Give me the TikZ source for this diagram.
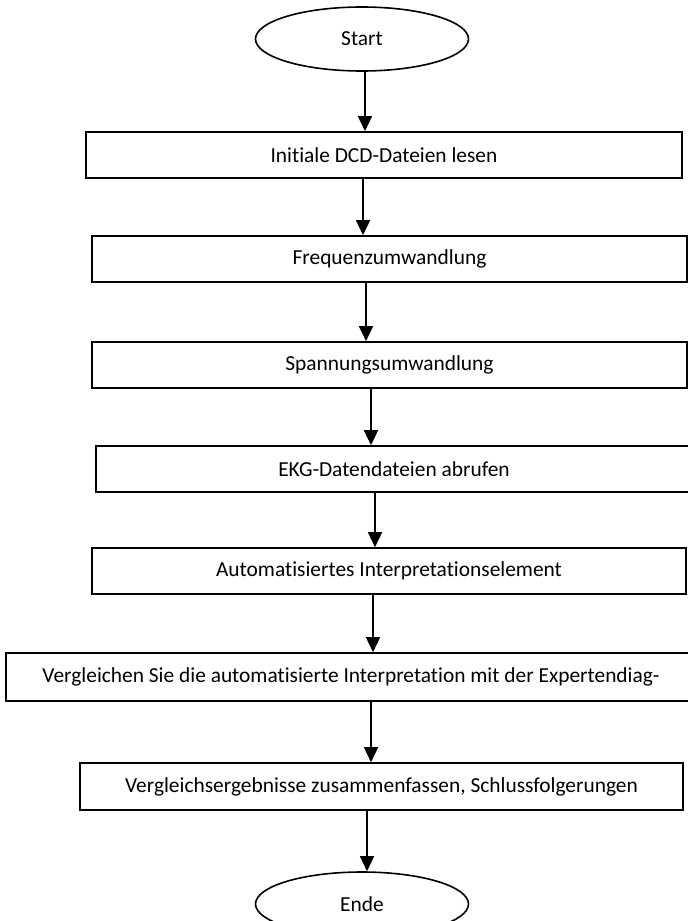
\documentclass[tikz,border=0pt]{standalone}
\usepackage{fontspec}
\setmainfont{Carlito}[Ligatures=NoCommon]
\usetikzlibrary{arrows.meta,shapes.geometric}
\tikzset{
  txt/.style={font=\fontsize{21.4}{24}\selectfont},
  stepbox/.style={draw=black,line width=1.6pt,rectangle,inner sep=0pt,minimum height=46pt,txt},
  term/.style={draw=black,line width=1.6pt,ellipse,inner sep=0pt,minimum width=213pt,minimum height=64pt,txt},
  arr/.style={line width=1.5pt,-{Triangle[length=15pt,width=14pt]}}
}
\begin{document}
\begin{tikzpicture}[x=1pt,y=-1pt]
\useasboundingbox[fill=white] (0,0) rectangle (688,921);
\node[term] (start) at (362,39) {Start};
\node[stepbox,minimum width=596pt] (b1) at (384,155) {Initiale DCD-Dateien lesen};
\node[stepbox,minimum width=595pt] (b2) at (389.5,259) {Frequenzumwandlung};
\node[stepbox,minimum width=595pt] (b3) at (389.5,365) {Spannungsumwandlung};
\node[stepbox,minimum width=596pt] (b4) at (394,469) {EKG-Datendateien abrufen};
\node[stepbox,minimum width=594pt] (b5) at (389,571) {Automatisiertes Interpretationselement};
\node[stepbox,minimum width=690pt,minimum height=48pt] (b6) at (351,677) {Vergleichen Sie die automatisierte Interpretation mit der Expertendiag-};
\node[stepbox,minimum width=603pt,minimum height=47pt] (b7) at (381.5,786.5) {Vergleichsergebnisse zusammenfassen, Schlussfolgerungen};
\node[term] (ende) at (362,904) {Ende};
\draw[arr] (start.south -| 365,0) -- (b1.north -| 365,0);
\draw[arr] (b1.south -| 363,0) -- (b2.north -| 363,0);
\draw[arr] (b2.south -| 366,0) -- (b3.north -| 366,0);
\draw[arr] (b3.south -| 371,0) -- (b4.north -| 371,0);
\draw[arr] (b4.south -| 375,0) -- (b5.north -| 375,0);
\draw[arr] (b5.south -| 373,0) -- (b6.north -| 373,0);
\draw[arr] (b6.south -| 371,0) -- (b7.north -| 371,0);
\draw[arr] (b7.south -| 367,0) -- (ende.north -| 367,0);
\end{tikzpicture}
\end{document}
